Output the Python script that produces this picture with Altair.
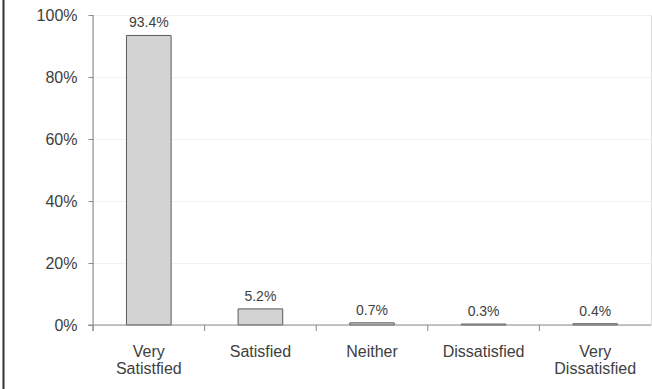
import altair as alt
import pandas as pd

categories = ["Very\nSatistfied", "Satisfied", "Neither", "Dissatisfied", "Very\nDissatisfied"]
shares = [93.4, 5.2, 0.7, 0.3, 0.4]
value_labels = ["93.4%", "5.2%", "0.7%", "0.3%", "0.4%"]

df = pd.DataFrame({"category": categories, "share": shares, "label": value_labels})

W, H = 558, 310
N = len(categories)
STEP = W / N
PAD_INNER = 0.6
FONT = "Liberation Sans"
TEXT = "#404040"
AXIS = "#8a8a8a"

x_scale = alt.Scale(paddingInner=PAD_INNER, paddingOuter=PAD_INNER / 2)

x_enc = alt.X(
    "category:N",
    sort=categories,
    title=None,
    scale=x_scale,
    axis=alt.Axis(
        labelAngle=0,
        ticks=False,
        domain=False,
        grid=False,
        labelExpr="split(datum.label, '\\n')",
        labelFont=FONT,
        labelFontSize=16,
        labelColor=TEXT,
        labelPadding=18,
        labelLineHeight=17,
    ),
)

y_enc = alt.Y(
    "share:Q",
    title=None,
    scale=alt.Scale(domain=[0, 100], nice=False),
    axis=alt.Axis(
        values=[0, 20, 40, 60, 80, 100],
        labelExpr="datum.value + '%'",
        labelFont=FONT,
        labelFontSize=16,
        labelColor=TEXT,
        labelPadding=11,
        tickSize=5,
        tickColor=AXIS,
        domain=False,
        grid=True,
        gridColor="#f2f2f2",
        gridWidth=1,
    ),
)

base = alt.Chart(df)

bars = base.mark_bar(fill="#d3d3d3", stroke="#5a5a5a", strokeWidth=1).encode(x=x_enc, y=y_enc)

labels = base.mark_text(
    baseline="bottom", dy=-5, font=FONT, fontSize=14, color=TEXT
).encode(x=alt.X("category:N", sort=categories), y="share:Q", text="label:N")

# separators at the boundaries between category slots
seps = base.mark_rule(color=AXIS, strokeWidth=1, xOffset=-STEP * PAD_INNER / 2).encode(
    x=alt.X("category:N", sort=categories, bandPosition=0),
    y=alt.value(H),
    y2=alt.value(H + 6),
)

x_line = alt.Chart(pd.DataFrame({"a": [0]})).mark_rule(color=AXIS, strokeWidth=1).encode(
    x=alt.value(-5), x2=alt.value(W), y=alt.value(H)
)
y_line = alt.Chart(pd.DataFrame({"a": [0]})).mark_rule(color=AXIS, strokeWidth=1).encode(
    x=alt.value(0), y=alt.value(0), y2=alt.value(H + 6)
)
frame = alt.Chart(pd.DataFrame({"a": [0]})).mark_rule(color="#333333", strokeWidth=2).encode(
    x=alt.value(-89.5), y=alt.value(-15), y2=alt.value(H + 64)
)

chart = (
    alt.layer(bars, labels, seps, x_line, y_line, frame)
    .properties(
        width=W,
        height=H,
        autosize=alt.AutoSizeParams(type="none"),
        padding={"left": 93, "top": 15, "right": 1, "bottom": 64},
    )
    .configure_view(stroke=None)
    .configure(background="white")
)

chart.save("out.html", embed_options={"renderer": "svg", "actions": False})
